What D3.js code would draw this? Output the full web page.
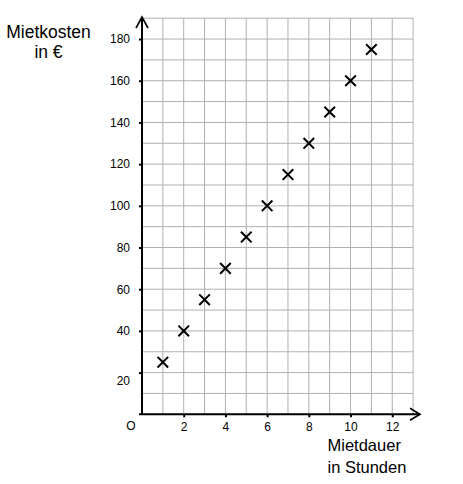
<!DOCTYPE html>
<html>
<head>
<meta charset="utf-8">
<script src="https://cdn.jsdelivr.net/npm/d3@7"></script>
<style>
  body { margin: 0; background: #fff; }
  svg { display: block; font-family: "Liberation Sans", Arial, sans-serif; }
  .axis path, .axis line { stroke: #000; }
  .axis text { font-size: 12px; fill: #000; }
</style>
</head>
<body>
<svg id="chart" width="463" height="484"></svg>
<script>
// Mietdauer (Stunden) -> Mietkosten (€)
const hours = [1, 2, 3, 4, 5, 6, 7, 8, 9, 10, 11];
const costs = [25, 40, 55, 70, 85, 100, 115, 130, 145, 160, 175];

const xTicks = [2, 4, 6, 8, 10, 12];
const yTicks = [20, 40, 60, 80, 100, 120, 140, 160, 180];
const xGrid = [1, 2, 3, 4, 5, 6, 7, 8, 9, 10, 11, 12, 13];
const yGrid = [10, 20, 30, 40, 50, 60, 70, 80, 90, 100, 110, 120, 130, 140, 150, 160, 170, 180, 190];

const svg = d3.select("#chart");

const x = d3.scaleLinear().domain([0, 13]).range([142, 413.1]);
const y = d3.scaleLinear().domain([0, 190]).range([414.3, 18.2]);

// grid
const grid = svg.append("g").attr("stroke", "#b0b0b0").attr("stroke-width", 1);
grid.selectAll("line.v")
  .data(xGrid)
  .join("line")
  .attr("class", "v")
  .attr("x1", d => x(d)).attr("x2", d => x(d))
  .attr("y1", y(0)).attr("y2", y(190));
grid.selectAll("line.h")
  .data(yGrid)
  .join("line")
  .attr("class", "h")
  .attr("x1", x(0)).attr("x2", x(13))
  .attr("y1", d => y(d)).attr("y2", d => y(d));

// axes (ticks + labels)
const xAxis = d3.axisBottom(x).tickValues(xTicks).tickSize(3).tickPadding(5).tickSizeOuter(0);
const yAxis = d3.axisLeft(y).tickValues(yTicks).tickSize(3).tickPadding(9).tickSizeOuter(0);

const gx = svg.append("g")
  .attr("class", "axis")
  .attr("transform", `translate(0,${y(0)})`)
  .call(xAxis);
gx.select(".domain").remove();
gx.selectAll(".tick line").attr("stroke-width", 2);

const gy = svg.append("g")
  .attr("class", "axis")
  .attr("transform", `translate(${x(0)},0)`)
  .call(yAxis);
gy.select(".domain").remove();
gy.selectAll(".tick line").attr("stroke-width", 2);
// the "20" label sits a bit low in the original
gy.selectAll(".tick text").filter(d => d === 20).attr("dy", "1.0em");

// axis lines with arrow heads
const axes = svg.append("g").attr("stroke", "#000").attr("stroke-width", 2).attr("fill", "none");
axes.append("line")
  .attr("x1", x(0) - 3).attr("x2", 420)
  .attr("y1", y(0)).attr("y2", y(0));
axes.append("line")
  .attr("x1", x(0)).attr("x2", x(0))
  .attr("y1", y(0)).attr("y2", 17);
axes.append("path")
  .attr("stroke-width", 1.6)
  .attr("d", `M${420 - 10},${y(0) - 6}L420,${y(0)}L${420 - 10},${y(0) + 6}`);
axes.append("path")
  .attr("stroke-width", 1.6)
  .attr("d", `M${x(0) - 6},28L${x(0)},17L${x(0) + 6},28`);

// origin
svg.append("text")
  .attr("x", 131).attr("y", 430)
  .attr("text-anchor", "middle")
  .attr("font-size", 12)
  .text("O");

// crosses
const s = 5.3;
svg.append("g")
  .selectAll("path")
  .data(hours.map((h, i) => [h, costs[i]]))
  .join("path")
  .attr("d", d => {
    const cx = x(d[0]), cy = y(d[1]);
    return `M${cx - s},${cy - s}L${cx + s},${cy + s}M${cx - s},${cy + s}L${cx + s},${cy - s}`;
  })
  .attr("stroke", "#000")
  .attr("stroke-width", 2)
  .attr("fill", "none");

// axis titles
const yTitle = svg.append("text")
  .attr("text-anchor", "middle")
  .attr("font-size", 17.5);
yTitle.append("tspan").attr("x", 48.5).attr("y", 37.5).text("Mietkosten");
yTitle.append("tspan").attr("x", 48.5).attr("y", 58).text("in €");

const xTitle = svg.append("text")
  .attr("font-size", 16.5);
xTitle.append("tspan").attr("x", 327.5).attr("y", 451).text("Mietdauer");
xTitle.append("tspan").attr("x", 327.5).attr("y", 472.5).text("in Stunden");
</script>
</body>
</html>
